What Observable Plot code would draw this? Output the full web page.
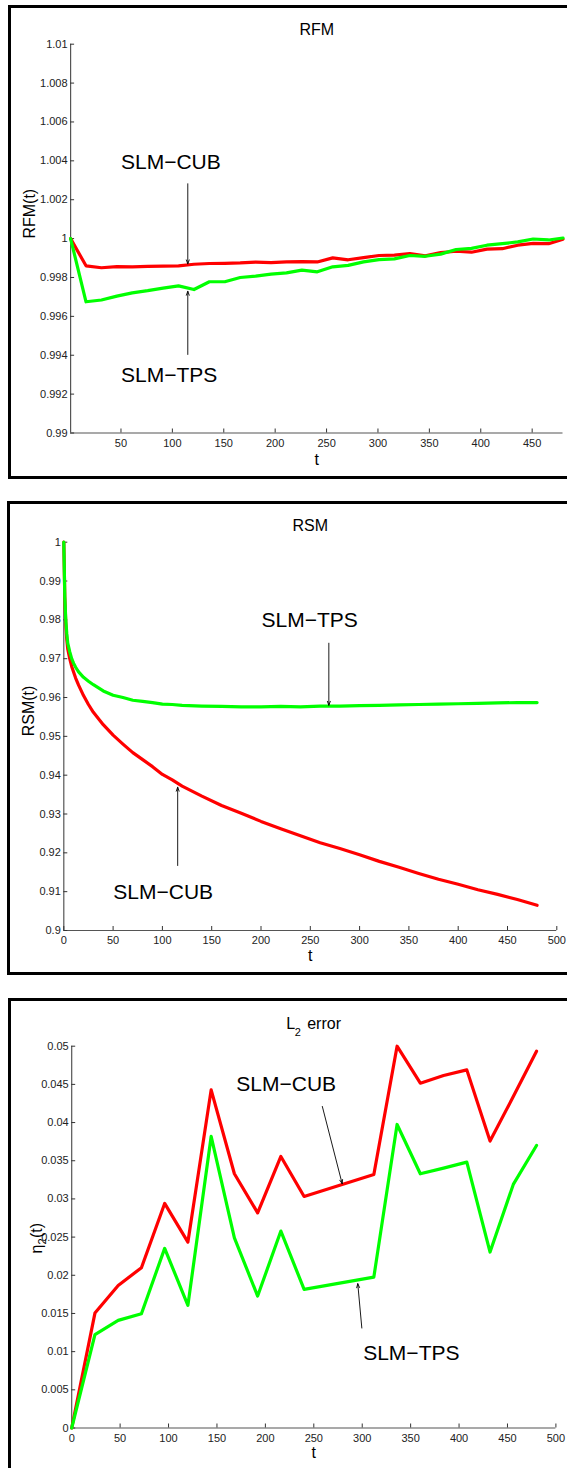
<!DOCTYPE html>
<html>
<head>
<meta charset="utf-8">
<script src="https://cdn.jsdelivr.net/npm/d3@7"></script>
<script src="https://cdn.jsdelivr.net/npm/@observablehq/plot@0.6"></script>
<style>
  html, body { margin: 0; padding: 0; background: #fff; }
  body { width: 567px; height: 1468px; overflow: hidden; position: relative; }
  .box { position: absolute; box-sizing: border-box; border: 3px solid #000; width: 620px; }
  .panel { position: absolute; left: 0; }
</style>
</head>
<body>
<div class="box" style="left:8px; top:5px; height:474px;"></div>
<div class="box" style="left:7px; top:501px; height:474px;"></div>
<div class="box" style="left:8px; top:998px; height:520px;"></div>
<div id="p1" class="panel" style="top:0px"></div>
<div id="p2" class="panel" style="top:490px"></div>
<div id="p3" class="panel" style="top:980px"></div>
<script>
// ---------- RFM panel data ----------
const rfmT = [1,16,31,46,61,76,91,106,121,136,151,166,181,196,211,226,241,256,271,286,301,316,331,346,361,376,391,406,421,436,451,466,480];
const rfmCub = [1.0000,0.99860,0.99850,0.99856,0.99855,0.99857,0.99858,0.99860,0.99868,0.99872,0.99873,0.99875,0.99879,0.99876,0.99880,0.99882,0.99880,0.99901,0.99891,0.99902,0.99913,0.99915,0.99923,0.99911,0.99928,0.99935,0.99930,0.99946,0.99948,0.99966,0.99975,0.99974,0.99997];
const rfmTps = [1.0000,0.99675,0.99684,0.99704,0.99721,0.99732,0.99745,0.99757,0.99738,0.99778,0.99778,0.99800,0.99807,0.99817,0.99824,0.99838,0.99829,0.99855,0.99862,0.99880,0.99892,0.99896,0.99913,0.99909,0.99920,0.99944,0.99950,0.99966,0.99974,0.99983,0.99998,0.99993,1.00003];
const rfmXTicks = [50,100,150,200,250,300,350,400,450];
const rfmYTicks = [0.99,0.992,0.994,0.996,0.998,1,1.002,1.004,1.006,1.008,1.01];

// ---------- RSM panel data ----------
const rsmT = [0,1,2,3,4,6,8,10,12,15,20,25,30,40,50,60,70,80,90,100,110,120,140,160,180,200,220,240,260,280,300,320,340,360,380,400,420,440,460,480];
const rsmCub = [1.0,0.986,0.979,0.975,0.9725,0.9700,0.9680,0.9665,0.9650,0.9632,0.9605,0.9582,0.9562,0.9530,0.9503,0.9480,0.9458,0.9440,0.9422,0.9402,0.9388,0.9372,0.9346,0.9322,0.9302,0.9281,0.9262,0.9244,0.9226,0.9211,0.9195,0.9178,0.9163,0.9147,0.9132,0.9119,0.9105,0.9093,0.9080,0.9065];
const rsmTps = [1.0,0.986,0.980,0.9765,0.974,0.9718,0.9700,0.9688,0.9678,0.9666,0.9652,0.9642,0.9633,0.9617,0.9606,0.9600,0.9593,0.9590,0.9587,0.9583,0.9582,0.9580,0.9578,0.9577,0.9576,0.9576,0.9577,0.9576,0.9578,0.9578,0.9579,0.9580,0.9581,0.9582,0.9583,0.9584,0.9585,0.9586,0.9587,0.9587];
const rsmXTicks = [0,50,100,150,200,250,300,350,400,450,500];
const rsmYTicks = [0.9,0.91,0.92,0.93,0.94,0.95,0.96,0.97,0.98,0.99,1];

// ---------- L2 error panel data ----------
const l2T = [0,24,48,72,96,120,144,168,192,216,240,312,336,360,384,408,432,456,480];
const l2Cub = [0,0.01505,0.01867,0.02099,0.02941,0.02435,0.04428,0.03329,0.02818,0.03556,0.03032,0.03320,0.05000,0.04516,0.04616,0.04690,0.03757,0.04340,0.04935];
const l2Tps = [0,0.01222,0.01409,0.01497,0.02352,0.01606,0.03818,0.02491,0.01728,0.02579,0.01815,0.01976,0.03975,0.03329,0.03403,0.03482,0.02304,0.03190,0.03700];
const l2XTicks = [0,50,100,150,200,250,300,350,400,450,500];
const l2YTicks = [0,0.005,0.01,0.015,0.02,0.025,0.03,0.035,0.04,0.045,0.05];

// ---------- annotations (data coordinates) ----------
const rfmNotes = [{label:"SLM−CUB", t:50, v:1.00359}, {label:"SLM−TPS", t:50, v:0.99261}];
const rfmArrows = [{t1:115, v1:1.00282, t2:115, v2:0.99870}, {t1:115, v1:0.99404, t2:115, v2:0.99729}];
const rsmNotes = [{label:"SLM−TPS", t:200.5, v:0.97811}, {label:"SLM−CUB", t:50.2, v:0.90817}];
const rsmArrows = [{t1:268.8, v1:0.97399, t2:268.8, v2:0.95800}, {t1:115.5, v1:0.91674, t2:115.5, v2:0.93690}];
const l2Notes = [{label:"SLM−CUB", t:170, v:0.04407}, {label:"SLM−TPS", t:301, v:0.00897}];
const l2Arrows = [{t1:258.8, v1:0.04211, t2:279.3, v2:0.03199}, {t1:299.6, v1:0.01309, t2:295.4, v2:0.01890}];

const FONT = "'Liberation Sans', Arial, Helvetica, sans-serif";
const RED = "#ff0000", GREEN = "#00ff00";
const fmt = d => String(+d.toFixed(4));
const rows = (ts, vs) => ts.map((t, i) => ({t, v: vs[i]}));

function common({xDomain, yDomain, xTicks, yTicks, cub, tps, notes, arrows}) {
  return [
    Plot.ruleX([xDomain[0]], {stroke: "#555", strokeWidth: 1.2}),
    Plot.ruleY([yDomain[0]], {stroke: "#555", strokeWidth: 1.2}),
    Plot.axisX(xTicks, {tickSize: -4, tickPadding: 10, tickFormat: fmt, fontSize: 11, stroke: "#333", fill: "#222", label: null}),
    Plot.axisY(yTicks, {tickSize: -4, tickPadding: 7, tickFormat: fmt, fontSize: 11, stroke: "#333", fill: "#222", label: null}),
    Plot.line(cub, {x: "t", y: "v", stroke: RED, strokeWidth: 3.2}),
    Plot.line(tps, {x: "t", y: "v", stroke: GREEN, strokeWidth: 3.2}),
    Plot.arrow(arrows, {x1: "t1", y1: "v1", x2: "t2", y2: "v2", stroke: "#000", strokeWidth: 0.9, headLength: 7, headAngle: 40}),
    Plot.text(notes, {x: "t", y: "v", text: "label", textAnchor: "start", lineAnchor: "bottom", fontSize: 21, fill: "#000"}),
    Plot.text(["t"], {text: d => d, frameAnchor: "bottom", lineAnchor: "bottom", fontSize: 16, fill: "#000"})
  ];
}

// ---------- Panel 1: RFM ----------
{
  const marks = common({xDomain:[1,480], yDomain:[0.99,1.01], xTicks: rfmXTicks, yTicks: rfmYTicks,
    cub: rows(rfmT, rfmCub), tps: rows(rfmT, rfmTps), notes: rfmNotes, arrows: rfmArrows});
  marks[8] = Plot.text(["t"], {text: d => d, frameAnchor: "bottom", lineAnchor: "bottom", dy: 31.5, fontSize: 16, fill: "#000"});
  marks.push(Plot.text(["RFM"], {text: d => d, frameAnchor: "top", lineAnchor: "bottom", dy: -9.7, fontSize: 16, fill: "#000"}));
  marks.push(Plot.text(["RFM(t)"], {text: d => d, frameAnchor: "left", rotate: -90, lineAnchor: "bottom", dx: -35.5, fontSize: 16, fill: "#000"}));
  const svg = Plot.plot({
    width: 567, height: 478,
    marginLeft: 70.1, marginRight: 4.5, marginTop: 43.7, marginBottom: 45.5,
    x: {domain: [1, 480]}, y: {domain: [0.99, 1.01]},
    style: {fontFamily: FONT, background: "transparent", overflow: "visible"},
    marks
  });
  document.getElementById("p1").append(svg);
}

// ---------- Panel 2: RSM ----------
{
  const marks = common({xDomain:[0,500], yDomain:[0.9,1], xTicks: rsmXTicks, yTicks: rsmYTicks,
    cub: rows(rsmT, rsmCub), tps: rows(rsmT, rsmTps), notes: rsmNotes, arrows: rsmArrows});
  marks[8] = Plot.text(["t"], {text: d => d, frameAnchor: "bottom", lineAnchor: "bottom", dy: 30.7, fontSize: 16, fill: "#000"});
  marks.push(Plot.text(["RSM"], {text: d => d, frameAnchor: "top", lineAnchor: "bottom", dy: -11, fontSize: 16, fill: "#000"}));
  marks.push(Plot.text(["RSM(t)"], {text: d => d, frameAnchor: "left", rotate: -90, lineAnchor: "bottom", dx: -29.5, fontSize: 16, fill: "#000"}));
  const svg = Plot.plot({
    width: 567, height: 490,
    marginLeft: 63.3, marginRight: 10.7, marginTop: 51.7, marginBottom: 50,
    x: {domain: [0, 500]}, y: {domain: [0.9, 1]},
    style: {fontFamily: FONT, background: "transparent", overflow: "visible"},
    marks
  });
  document.getElementById("p2").append(svg);
}

// ---------- Panel 3: L2 error ----------
{
  const marks = common({xDomain:[0,500], yDomain:[0,0.05], xTicks: l2XTicks, yTicks: l2YTicks,
    cub: rows(l2T, l2Cub), tps: rows(l2T, l2Tps), notes: l2Notes, arrows: l2Arrows});
  marks[8] = Plot.text(["t"], {text: d => d, frameAnchor: "bottom", lineAnchor: "bottom", dy: 29.8, fontSize: 16, fill: "#000"});
  // title "L_2 error"
  marks.push(Plot.text(["L"], {text: d => d, frameAnchor: "top", textAnchor: "start", lineAnchor: "bottom", dx: -27.6, dy: -17.4, fontSize: 16, fill: "#000"}));
  marks.push(Plot.text(["2"], {text: d => d, frameAnchor: "top", textAnchor: "start", lineAnchor: "bottom", dx: -19.0, dy: -9.8, fontSize: 11, fill: "#000"}));
  marks.push(Plot.text(["error"], {text: d => d, frameAnchor: "top", textAnchor: "start", lineAnchor: "bottom", dx: -6.6, dy: -17.4, fontSize: 16, fill: "#000"}));
  // y label "η_2(t)"
  marks.push(Plot.text(["η"], {text: d => d, frameAnchor: "left", rotate: -90, textAnchor: "start", lineAnchor: "bottom", dx: -30, dy: 16.4, fontSize: 16, fill: "#000"}));
  marks.push(Plot.text(["2"], {text: d => d, frameAnchor: "left", rotate: -90, textAnchor: "start", lineAnchor: "bottom", dx: -26, dy: 7.4, fontSize: 11, fill: "#000"}));
  marks.push(Plot.text(["(t)"], {text: d => d, frameAnchor: "left", rotate: -90, textAnchor: "start", lineAnchor: "bottom", dx: -30, dy: 0.9, fontSize: 16, fill: "#000"}));
  const svg = Plot.plot({
    width: 567, height: 488,
    marginLeft: 71.2, marginRight: 11.6, marginTop: 65.7, marginBottom: 40.5,
    x: {domain: [0, 500]}, y: {domain: [0, 0.05]},
    style: {fontFamily: FONT, background: "transparent", overflow: "visible"},
    marks
  });
  document.getElementById("p3").append(svg);
}
</script>
</body>
</html>
